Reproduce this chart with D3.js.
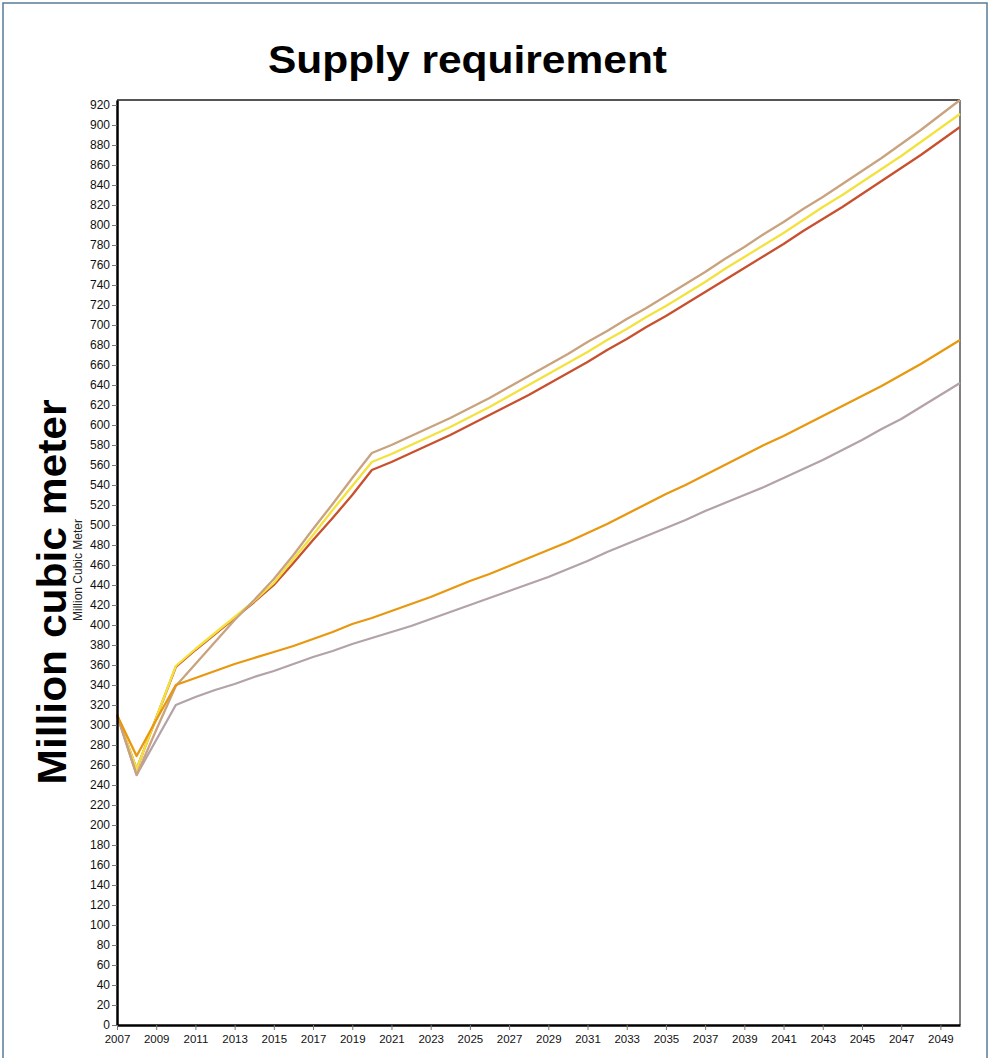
<!DOCTYPE html>
<html><head><meta charset="utf-8">
<script src="https://cdn.jsdelivr.net/npm/d3@7"></script>
<style>body{margin:0;background:#fff}svg{display:block}</style>
</head><body>
<script>
const years = d3.range(2007, 2051);
const seriesNames = ["Red", "Yellow", "Grey", "Tan", "Orange"];
const seriesColors = ["#c8502e", "#f4e23c", "#b4a2aa", "#c9a27e", "#e8980e"];
const redValues = [310,256,307,358,375,391,407,423,440,462,485,507,530,555,
  563,572,581,590,600,610,620,630,641,652,663,675,686,698,709,721,733,745,757,769,781,794,806,818,831,844,857,870,884,898];
const yellowValues = [310,256,307,359,376,392,408,424,442,466,490,515,539,563,
  571,580,589,598,608,618,629,640,651,662,673,685,696,708,719,731,743,756,768,780,792,805,818,830,843,856,869,883,897,911];
const greyValues = [310,250,285,320,328,335,341,348,354,361,368,374,381,387,
  393,399,406,413,420,427,434,441,448,456,464,473,481,489,497,505,514,522,530,538,547,556,565,575,585,596,606,618,630,642];
const tanValues = [310,250,295,339,361,383,405,425,446,470,496,521,547,572,
  580,589,598,607,617,627,638,649,660,671,683,694,706,717,729,741,753,766,778,791,803,816,828,841,854,867,881,895,910,925];
const orangeValues = [310,269,305,340,347,354,361,367,373,379,386,393,401,407,
  414,421,428,436,444,451,459,467,475,483,492,501,511,521,531,540,550,560,570,580,589,599,609,619,629,639,650,661,673,685];
const allValues = [redValues, yellowValues, greyValues, tanValues, orangeValues];
const yTicks = d3.range(0, 921, 20);
const xTicks = d3.range(2007, 2050, 2);

const W = 990, H = 1058;
const svg = d3.select("body").append("svg").attr("width", W).attr("height", H);

svg.append("rect").attr("x", 3).attr("y", 3).attr("width", 984).attr("height", 1070)
  .attr("fill", "none").attr("stroke", "#5b7b95").attr("stroke-width", 1.5);

const L = 117, R = 960, T = 100, B = 1025;
const x = d3.scaleLinear().domain([2007, 2050]).range([L, R]);
const y = d3.scaleLinear().domain([0, 925]).range([B, T]);

svg.append("text").attr("x", 467.5).attr("y", 73).attr("text-anchor", "middle")
  .attr("font-family", "Liberation Sans, Arial, sans-serif").attr("font-weight", "bold")
  .attr("font-size", 39).attr("textLength", 399).attr("lengthAdjust", "spacingAndGlyphs")
  .attr("fill", "#000").text("Supply requirement");

svg.append("text").attr("transform", "translate(66,592) rotate(-90)").attr("text-anchor", "middle")
  .attr("font-family", "Liberation Sans, Arial, sans-serif").attr("font-weight", "bold")
  .attr("font-size", 40).attr("textLength", 385).attr("lengthAdjust", "spacingAndGlyphs")
  .attr("fill", "#000").text("Million cubic meter");

svg.append("text").attr("transform", "translate(82,570) rotate(-90)").attr("text-anchor", "middle")
  .attr("font-family", "Liberation Sans Narrow, Arial Narrow, sans-serif")
  .attr("font-size", 12).attr("fill", "#222").text("Million Cubic Meter");

// frame top and right
svg.append("line").attr("x1", L).attr("x2", R).attr("y1", T).attr("y2", T)
  .attr("stroke", "#555").attr("stroke-width", 2);
svg.append("line").attr("x1", R).attr("x2", R).attr("y1", T).attr("y2", B)
  .attr("stroke", "#000").attr("stroke-width", 1);

// lines
const line = d3.line().x((d, i) => x(years[i])).y(d => y(d));
allValues.forEach((vals, k) => {
  svg.append("path").datum(vals).attr("d", line).attr("fill", "none")
    .attr("stroke", seriesColors[k]).attr("stroke-width", 2.3).attr("stroke-linejoin", "round");
});

// y axis
const yAxis = svg.append("g").attr("transform", `translate(${L},0)`)
  .call(d3.axisLeft(y).tickValues(yTicks).tickSize(5).tickPadding(2).tickSizeOuter(0));
yAxis.select(".domain").attr("stroke", "#000").attr("stroke-width", 2.5);
yAxis.selectAll(".tick line").attr("stroke", "#777");
yAxis.selectAll(".tick text").attr("font-family", "Liberation Sans, Arial, sans-serif")
  .attr("font-size", 12).attr("fill", "#111");

// x axis
const xAxis = svg.append("g").attr("transform", `translate(0,${B})`)
  .call(d3.axisBottom(x).tickValues(xTicks).tickFormat(d3.format("d")).tickSize(5).tickPadding(5).tickSizeOuter(0));
xAxis.select(".domain").attr("stroke", "#000").attr("stroke-width", 2.5);
xAxis.selectAll(".tick line").attr("stroke", "#777");
xAxis.selectAll(".tick text").attr("font-family", "Liberation Sans Narrow, Arial Narrow, sans-serif")
  .attr("font-size", 11.5).attr("fill", "#111");
</script>
</body></html>
